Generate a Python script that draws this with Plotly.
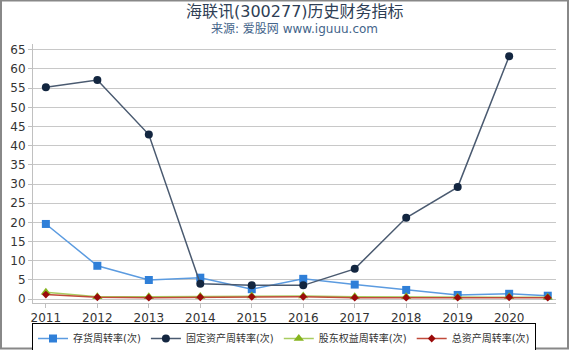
import plotly.graph_objects as go

years = [2011, 2012, 2013, 2014, 2015, 2016, 2017, 2018, 2019, 2020, 2020.75]
tick_years = [2011, 2012, 2013, 2014, 2015, 2016, 2017, 2018, 2019, 2020]
tick_labels = ["2011", "2012", "2013", "2014", "2015", "2016", "2017", "2018", "2019", "2020"]

inventory_turnover = [19.6, 8.7, 5.0, 5.6, 2.6, 5.3, 3.8, 2.4, 1.1, 1.4, 0.9]
fixed_asset_turnover = [55.2, 57.1, 42.9, 4.0, 3.6, 3.6, 7.9, 21.2, 29.2, 63.3, None]
equity_turnover = [1.8, 0.6, 0.6, 0.7, 0.8, 0.8, 0.6, 0.6, 0.5, 0.6, 0.5]
total_asset_turnover = [1.2, 0.5, 0.4, 0.5, 0.6, 0.6, 0.4, 0.4, 0.4, 0.5, 0.4]

names = ["存货周转率(次)", "固定资产周转率(次)", "股东权益周转率(次)", "总资产周转率(次)"]

font_family = "DejaVu Sans, Noto Sans CJK SC, sans-serif"

fig = go.Figure()
fig.add_trace(go.Scatter(x=years, y=inventory_turnover, name=names[0], mode="lines+markers",
                         line=dict(color="#5b9be0", width=1.5),
                         marker=dict(symbol="square", size=8, color="#2f7fd8")))
fig.add_trace(go.Scatter(x=years, y=fixed_asset_turnover, name=names[1], mode="lines+markers",
                         line=dict(color="#4a5a70", width=1.5),
                         marker=dict(symbol="circle", size=8, color="#132640")))
fig.add_trace(go.Scatter(x=years, y=equity_turnover, name=names[2], mode="lines+markers",
                         line=dict(color="#a8cc60", width=1.5),
                         marker=dict(symbol="triangle-up", size=9, color="#86b41e")))
fig.add_trace(go.Scatter(x=years, y=total_asset_turnover, name=names[3], mode="lines+markers",
                         line=dict(color="#c04a3a", width=1.5),
                         marker=dict(symbol="diamond", size=6, color="#9a0a0a")))

fig.update_layout(
    width=570, height=350,
    margin=dict(l=33, r=14, t=44, b=47, autoexpand=False),
    paper_bgcolor="white", plot_bgcolor="white",
    font=dict(family=font_family, size=12, color="#333333"),
    showlegend=True,
    legend=dict(orientation="h", x=284/570, xref="container", xanchor="center",
                y=(350-323)/350, yref="container", yanchor="top",
                bordercolor="#000000", borderwidth=1, font=dict(size=10, color="#333333"),
                itemwidth=30, tracegroupgap=0),
    annotations=[
        dict(text="海联讯(300277)历史财务指标", x=0.5, xref="paper", y=1.0, yref="paper",
             yanchor="top", yshift=44, showarrow=False, xanchor="center",
             font=dict(size=16, color="#2e3e55", family=font_family)),
        dict(text="来源: 爱股网 www.iguuu.com", x=0.5, xref="paper", y=1.0, yref="paper",
             yanchor="top", yshift=24, showarrow=False, xanchor="center",
             font=dict(size=12, color="#44648a", family=font_family)),
    ],
    shapes=[dict(type="rect", xref="paper", yref="paper",
                 x0=-32/523, x1=(523+12)/523, y0=-45.5/259, y1=(259+43.5)/259,
                 line=dict(color="#888888", width=2), fillcolor="rgba(0,0,0,0)")],
)

fig.update_xaxes(range=[2010.75, 2020.91], tickvals=tick_years, ticktext=tick_labels,
                 showgrid=False, showline=True, linecolor="#c0c0c0", linewidth=1,
                 ticks="outside", tickcolor="#c0c0c0", ticklen=4, zeroline=False,
                 tickfont=dict(size=12, color="#333333"))
fig.update_yaxes(range=[-1, 66.5], tickvals=list(range(0, 66, 5)),
                 showgrid=True, gridcolor="#c8c8c8", gridwidth=1,
                 showline=True, linecolor="#c0c0c0", linewidth=1,
                 ticks="outside", tickcolor="#c0c0c0", ticklen=4, zeroline=False,
                 tickfont=dict(size=12, color="#333333"))

fig.write_html("out.html")
